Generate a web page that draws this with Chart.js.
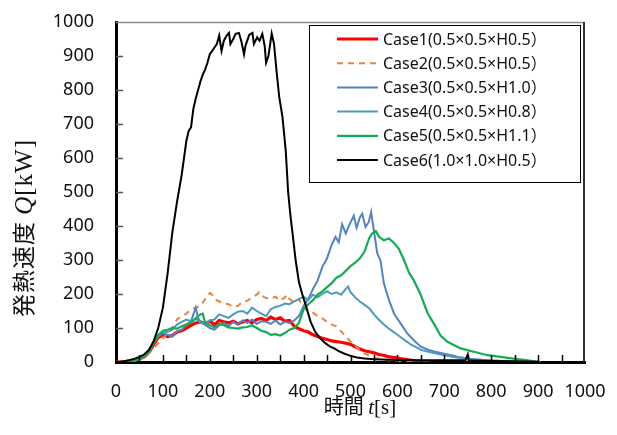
<!DOCTYPE html>
<html>
<head>
<meta charset="utf-8">
<script src="https://cdn.jsdelivr.net/npm/chart.js@4.4.1/dist/chart.umd.min.js"></script>
<style>
    body { margin: 0; background: #fff; }
    canvas { display: block; }
</style>
</head>
<body>
<canvas id="hrr-chart" width="617" height="435"></canvas>
<script>
// series labels (legend)
const caseLabels = [
    'Case1(0.5×0.5×H0.5）',
    'Case2(0.5×0.5×H0.5）',
    'Case3(0.5×0.5×H1.0）',
    'Case4(0.5×0.5×H0.8）',
    'Case5(0.5×0.5×H1.1）',
    'Case6(1.0×1.0×H0.5）'
];

// time [s] / heat release rate [kW]
const case1Time = [0,20,40,60,70,80,90,100,110,120,130,140,150,160,170,180,190,200,210,220,230,240,250,260,270,280,290,300,310,320,330,340,350,360,370,380,390,400,410,420,430,440,450,460,470,480,490,500,510,520,530,540,550,560,570,580,590,600,610,620,630,640,650,660,670];
const case1Q = [0,1,4,15,28,50,72,80,75,78,88,92,100,108,115,118,112,120,110,122,118,115,120,112,118,122,115,125,128,122,132,125,130,120,122,105,98,92,88,80,75,70,66,62,60,58,55,52,45,38,33,30,27,22,20,16,14,12,9,7,5,3,2,1,0];

const case2Time = [0,20,40,60,70,80,90,100,110,120,130,140,150,160,170,180,190,200,205,210,220,230,240,250,260,270,280,290,300,305,310,320,330,340,350,360,365,370,380,390,400,410,420,430,440,450,460,470,480,490,500,510,520,530,540,550,560,580,600,620,640];
const case2Q = [0,1,4,12,25,40,55,70,85,100,125,135,142,155,160,165,185,203,198,185,178,172,170,162,165,178,180,190,198,205,196,188,186,192,180,190,198,185,175,185,160,150,145,135,128,118,110,105,90,75,60,48,35,25,18,12,10,5,3,1,0];

const case3Time = [0,20,40,60,70,80,90,100,110,120,130,140,150,160,165,170,175,180,190,200,210,220,230,240,250,260,270,280,290,300,310,320,330,340,350,360,370,380,390,400,410,420,430,440,450,460,468,475,482,490,497,507,513,520,525,532,539,544,550,557,564,571,582,593,607,621,635,649,665,680,700,715,730,750,770,790,820,850];
const case3Q = [0,1,4,15,30,55,75,85,80,75,90,95,110,120,140,160,130,118,110,100,95,108,115,105,118,110,122,115,125,112,120,118,112,122,110,118,115,122,135,165,185,215,240,280,305,345,368,352,405,378,402,430,395,425,436,397,412,441,385,320,298,232,182,142,113,84,64,46,36,30,24,20,15,10,7,5,2,0];

const case4Time = [0,20,40,60,70,80,90,100,110,120,130,140,150,160,170,180,190,200,210,220,230,240,250,260,270,280,290,300,310,320,330,340,350,360,370,380,390,400,410,420,430,440,450,460,470,480,490,495,500,510,520,530,540,550,560,570,580,590,600,610,620,630,640,650,660,680,700,720,740,760,780,800,830,860,880];
const case4Q = [0,1,4,15,32,58,80,90,88,95,110,118,125,120,128,115,112,122,125,140,135,130,140,148,150,142,160,150,142,135,155,162,165,172,170,178,185,192,182,198,190,200,208,200,205,198,215,222,205,190,178,168,158,140,125,112,100,90,80,70,60,50,44,36,32,26,20,15,11,8,6,5,3,1,0];

const case5Time = [0,20,40,60,70,80,90,100,110,120,130,140,150,160,170,175,180,185,190,200,210,220,230,240,250,260,270,280,290,300,310,320,330,340,350,360,370,380,390,400,410,420,430,440,450,460,470,480,490,500,510,520,530,540,546,554,561,571,582,593,603,614,625,635,649,664,678,692,706,720,735,763,792,820,848,877,905];
const case5Q = [0,1,4,15,28,55,78,92,95,100,98,105,110,115,128,135,140,142,115,108,102,112,108,102,100,98,102,103,108,100,92,88,80,82,78,85,95,100,115,155,170,182,198,208,220,232,248,255,268,282,292,305,325,365,378,385,368,358,363,350,333,300,262,240,200,145,112,78,60,50,40,30,20,15,10,5,0];

const case6Time = [0,10,20,30,40,50,60,70,80,90,100,110,120,130,140,150,155,160,165,170,175,180,185,190,195,200,205,210,215,220,225,230,236,241,244,250,255,262,267,273,276,284,291,294,301,306,312,317,320,325,332,337,342,348,355,362,367,372,378,383,390,397,405,415,425,435,445,455,465,475,486,500,514,530,550,600,650,700,745,750,752,800,850,900];
const case6Q = [0,1,3,6,10,15,22,35,60,100,160,260,380,470,550,650,680,690,745,775,800,825,845,860,880,905,915,925,935,960,915,945,960,968,935,950,965,968,945,905,930,962,968,935,955,945,965,930,880,900,966,935,860,780,720,620,500,430,360,300,235,200,165,118,88,70,57,47,40,32,25,18,13,10,8,6,5,5,5,22,5,3,2,1];

// tick labels
const xTickValues = [0, 100, 200, 300, 400, 500, 600, 700, 800, 900, 1000];
const yTickValues = [0, 100, 200, 300, 400, 500, 600, 700, 800, 900, 1000];

const seriesTimes = [case1Time, case2Time, case3Time, case4Time, case5Time, case6Time];
const seriesValues = [case1Q, case2Q, case3Q, case4Q, case5Q, case6Q];

const lineStyles = [
    {color: '#ff0000', width: 3.2, dash: []},
    {color: '#e8853f', width: 2, dash: [6, 5]},
    {color: '#5283c6', width: 2, dash: []},
    {color: '#4b9bbd', width: 2, dash: []},
    {color: '#12ad55', width: 2.2, dash: []},
    {color: '#000000', width: 2, dash: []}
];

const tickFont = {family: "'Noto Sans', sans-serif", size: 18};

function buildDatasets() {
    return caseLabels.map((label, idx) => {
        const style = lineStyles[idx];
        return {
            label: label,
            data: seriesTimes[idx].map((t, i) => ({x: t, y: seriesValues[idx][i]})),
            borderColor: style.color,
            backgroundColor: style.color,
            borderWidth: style.width,
            borderDash: style.dash,
            pointRadius: 0,
            tension: 0,
            fill: false,
            order: caseLabels.length - idx // later cases on top, like the original
        };
    });
}

// draws text made of pieces in different fonts, centered on cx
function drawMixedText(ctx, parts, cx, baseline) {
    let total = 0;
    parts.forEach(p => {
        ctx.font = p.font;
        p.w = ctx.measureText(p.text).width;
        total += p.w;
    });
    let x = cx - total / 2;
    ctx.textAlign = 'left';
    ctx.textBaseline = 'alphabetic';
    parts.forEach(p => {
        ctx.font = p.font;
        ctx.fillText(p.text, x, baseline);
        x += p.w;
    });
}

const decorPlugin = {
    id: 'decor',
    afterDatasetsDraw(chart) {
        const ctx = chart.ctx;
        const area = chart.chartArea;
        const xs = chart.scales.x;
        const ys = chart.scales.y;
        ctx.save();

        // frame: top and right edges
        ctx.lineWidth = 1.5;
        ctx.strokeStyle = '#8a8a8a';
        ctx.beginPath();
        ctx.moveTo(area.left, area.top + 0.5);
        ctx.lineTo(area.right, area.top + 0.5);
        ctx.stroke();
        ctx.strokeStyle = '#333';
        ctx.lineWidth = 2;
        ctx.beginPath();
        ctx.moveTo(area.right - 1, area.top);
        ctx.lineTo(area.right - 1, area.bottom);
        ctx.stroke();

        // inner tick marks
        ctx.strokeStyle = '#555';
        ctx.lineWidth = 1.5;
        for (const v of yTickValues) {
            if (v === ys.min || v === ys.max) continue;
            const py = Math.round(ys.getPixelForValue(v)) + 0.5;
            ctx.beginPath();
            ctx.moveTo(area.left, py);
            ctx.lineTo(area.left + 7, py);
            ctx.stroke();
        }
        ctx.strokeStyle = '#000';
        for (let v = xs.min + 50; v < xs.max; v += 50) {
            const px = Math.round(xs.getPixelForValue(v)) + 0.5;
            ctx.beginPath();
            ctx.moveTo(px, area.bottom);
            ctx.lineTo(px, area.bottom - 7);
            ctx.stroke();
        }
        ctx.restore();
    },
    afterDraw(chart) {
        const ctx = chart.ctx;
        ctx.save();

        // legend box
        const box = {left: 309.5, top: 25.5, right: 580.5, bottom: 182.5};
        ctx.fillStyle = '#fff';
        ctx.fillRect(box.left, box.top, box.right - box.left, box.bottom - box.top);
        ctx.strokeStyle = '#000';
        ctx.lineWidth = 1;
        ctx.strokeRect(box.left, box.top, box.right - box.left, box.bottom - box.top);

        chart.data.datasets.forEach((ds, i) => {
            const y = 39 + i * 24.2;
            ctx.strokeStyle = ds.borderColor;
            ctx.lineWidth = ds.borderWidth;
            ctx.setLineDash(ds.borderDash || []);
            ctx.beginPath();
            ctx.moveTo(337, y);
            ctx.lineTo(378, y);
            ctx.stroke();
            ctx.setLineDash([]);
            ctx.fillStyle = '#111';
            ctx.font = "16px 'Noto Sans', 'Noto Sans CJK JP', sans-serif";
            ctx.textAlign = 'left';
            ctx.textBaseline = 'middle';
            ctx.fillText(ds.label, 383, y + 1);
        });

        // axis titles (mixed fonts: italic serif symbol)
        ctx.fillStyle = '#111';
        drawMixedText(ctx, [
            {text: '時間 ', font: "20px 'Noto Sans CJK JP', sans-serif"},
            {text: 't', font: "italic 21px 'Liberation Serif', serif"},
            {text: '[s]', font: "21px 'Liberation Serif', serif"}
        ], 360, 414);

        ctx.translate(32, 228);
        ctx.rotate(-Math.PI / 2);
        ctx.letterSpacing = '1px';
        drawMixedText(ctx, [
            {text: '発熱速度 ', font: "23px 'Noto Sans CJK JP', sans-serif"},
            {text: 'Q', font: "italic 25px 'Liberation Serif', serif"},
            {text: '[kW]', font: "25px 'Liberation Serif', serif"}
        ], 0, 0);
        ctx.restore();
    }
};

// fixed plot box: no automatic padding for the end labels
function fixXScale(scale) {
    scale.height = 73;
    scale.paddingLeft = 0;
    scale.paddingRight = 0;
}

function fixYScale(scale) {
    scale.width = 116;
    scale.paddingTop = 0;
    scale.paddingBottom = 0;
}

const hrrChart = new Chart(document.getElementById('hrr-chart'), {
    type: 'line',
    data: {datasets: buildDatasets()},
    options: {
        responsive: false,
        animation: false,
        events: [],
        layout: {padding: {top: 22, right: 32, left: 0, bottom: 0}},
        plugins: {
            legend: {display: false},
            tooltip: {enabled: false}
        },
        scales: {
            x: {
                type: 'linear',
                min: 0,
                max: 1000,
                afterFit: fixXScale,
                afterBuildTicks: (scale) => { scale.ticks = xTickValues.map(v => ({value: v})); },
                grid: {display: false, drawTicks: false},
                border: {display: true, color: '#000', width: 3},
                ticks: {
                    font: tickFont,
                    color: '#111',
                    padding: 19,
                    maxRotation: 0,
                    autoSkip: false,
                    callback: (value) => String(value)
                }
            },
            y: {
                type: 'linear',
                min: 0,
                max: 1000,
                afterFit: fixYScale,
                afterBuildTicks: (scale) => { scale.ticks = yTickValues.map(v => ({value: v})); },
                grid: {display: false, drawTicks: false},
                border: {display: true, color: '#000', width: 3},
                ticks: {
                    font: tickFont,
                    color: '#111',
                    padding: 22,
                    callback: (value) => String(value)
                }
            }
        }
    },
    plugins: [decorPlugin]
});
</script>
</body>
</html>
